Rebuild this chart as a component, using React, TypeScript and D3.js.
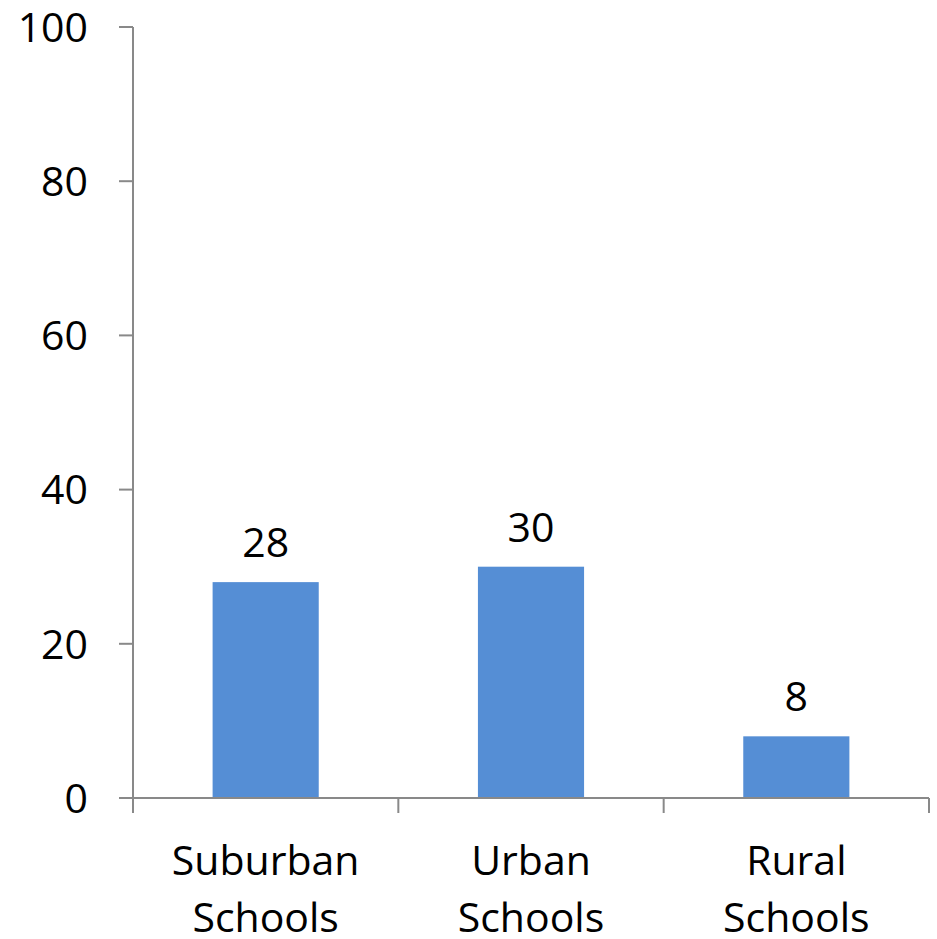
import { useEffect, useRef } from "react";
import * as d3 from "d3";

const categories = [["Suburban", "Schools"], ["Urban", "Schools"], ["Rural", "Schools"]];
const values = [28, 30, 8];
const yTicks = [0, 20, 40, 60, 80, 100];

const W = 937;
const H = 939;
const FONT = "'Open Sans', 'Noto Sans', sans-serif";

export default function App() {
  const svgRef = useRef<SVGSVGElement>(null);

  useEffect(() => {
    if (!svgRef.current) return;
    const svg = d3.select(svgRef.current);
    svg.selectAll("*").remove();

    const left = 133, right = 929, top = 27, bottom = 798;
    const x = d3.scaleBand<number>().domain(d3.range(values.length)).range([left, right]).paddingInner(0.6).paddingOuter(0.3);
    const y = d3.scaleLinear().domain([0, 100]).range([bottom, top]);
    const axisColor = "#898989";

    // y axis
    svg.append("line").attr("x1", left).attr("x2", left).attr("y1", top).attr("y2", bottom)
      .attr("stroke", axisColor).attr("stroke-width", 2);
    const yt = svg.append("g").selectAll("g").data(yTicks).join("g")
      .attr("transform", (d) => `translate(0,${y(d)})`);
    yt.append("line").attr("x1", left - 14).attr("x2", left).attr("stroke", axisColor).attr("stroke-width", 2);
    yt.append("text").attr("x", 88).attr("dy", "0.36em").attr("text-anchor", "end")
      .attr("font-family", FONT).attr("font-size", 41).attr("fill", "#000").text((d) => d);

    // bars
    svg.append("g").selectAll("rect").data(values).join("rect")
      .attr("x", (_, i) => x(i)!).attr("width", x.bandwidth())
      .attr("y", (d) => y(d)).attr("height", (d) => bottom - y(d))
      .attr("fill", "#558ED5");

    svg.append("g").selectAll("text").data(values).join("text")
      .attr("x", (_, i) => x(i)! + x.bandwidth() / 2).attr("y", (d) => y(d) - 25)
      .attr("text-anchor", "middle").attr("font-family", FONT).attr("font-size", 41)
      .text((d) => d);

    // x axis
    const step = (right - left) / values.length;
    svg.append("line").attr("x1", left).attr("x2", right).attr("y1", bottom).attr("y2", bottom)
      .attr("stroke", axisColor).attr("stroke-width", 2);
    svg.append("g").selectAll("line").data(d3.range(values.length + 1)).join("line")
      .attr("x1", (i) => left + i * step).attr("x2", (i) => left + i * step)
      .attr("y1", bottom).attr("y2", bottom + 15).attr("stroke", axisColor).attr("stroke-width", 2);

    const cl = svg.append("g").selectAll("text").data(categories).join("text")
      .attr("text-anchor", "middle").attr("font-family", FONT).attr("font-size", 41);
    cl.each(function (lines, i) {
      const t = d3.select(this);
      lines.forEach((ln, j) => {
        t.append("tspan").attr("x", x(i)! + x.bandwidth() / 2).attr("y", 875 + j * 57).text(ln);
      });
    });
  }, []);

  return <svg ref={svgRef} width={W} height={H} style={{ position: "absolute", left: 0, top: 0, background: "#fff" }} />;
}
